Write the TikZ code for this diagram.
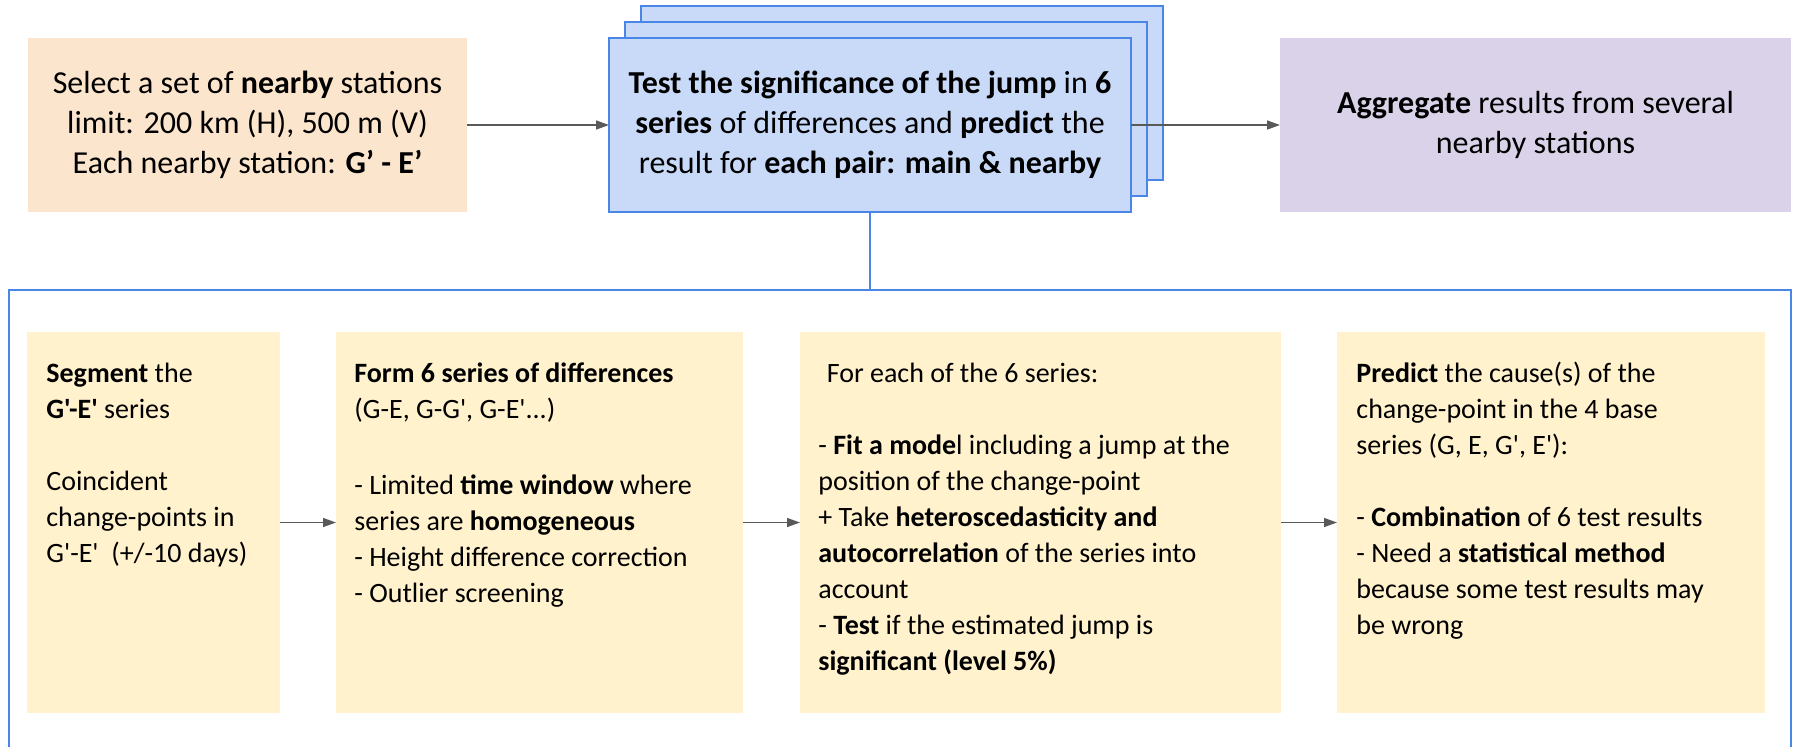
\documentclass[tikz,border=0pt]{standalone}
\usepackage{fontspec}
\setmainfont{Carlito}[Ligatures=TeXOff]
\usetikzlibrary{arrows.meta}

\definecolor{peach}{HTML}{FCE5CD}
\definecolor{paleblue}{HTML}{C9DAF8}
\definecolor{edgeblue}{HTML}{4A86E8}
\definecolor{lilac}{HTML}{D9D2E9}
\definecolor{cream}{HTML}{FFF2CC}
\definecolor{arrowgrey}{HTML}{595959}

\newcommand\mytopfont{\fontsize{16}{20}\selectfont}
\newcommand\mylowfont{\fontsize{14}{18}\selectfont}

\begin{document}
\begin{tikzpicture}[x=0.5pt,y=-0.5pt,
  panel/.style={draw=edgeblue, line width=1pt, inner sep=0pt, outer sep=0pt},
  topbox/.style={inner sep=0pt, outer sep=0pt, minimum height=87pt, align=center, font=\mytopfont},
  stackbox/.style={topbox, fill=paleblue, draw=edgeblue, line width=1pt, minimum width=261pt},
  lowbox/.style={fill=cream, inner sep=0pt, outer sep=0pt, minimum height=190.5pt},
  lowtext/.style={anchor=north west, inner sep=0pt, align=left, font=\mylowfont},
  flow/.style={draw=arrowgrey, line width=0.75pt, -{Triangle[length=6.5pt,width=4.5pt]}},
  link/.style={draw=edgeblue, line width=1pt}
]
\useasboundingbox (0,0) rectangle (1794,746);

% outer frame of the per-pair procedure
\node[panel, anchor=north west, minimum width=891pt, minimum height=250pt] (panel) at (9,290) {};

% top row
\node[topbox, fill=peach, minimum width=219.5pt] (sel) at (247.5,125)
  {Select a set of \textbf{nearby} stations\\limit: 200 km (H), 500 m (V)\\Each nearby station: \textbf{G’ - E’}};

\node[stackbox] (back) at (902,93) {};
\node[stackbox] (mid) at (886,109) {};
\node[stackbox] (front) at (870,125)
  {\textbf{Test the significance of the jump} in \textbf{6}\\\textbf{series} of differences and \textbf{predict} the\\result for \textbf{each pair: main \& nearby}};

\node[topbox, fill=lilac, minimum width=255.5pt] (agg) at (1535.5,125)
  {\textbf{Aggregate} results from several\\nearby stations};

\draw[flow] (sel.east) -- (front.west);
\draw[flow] (front.east) -- (agg.west);
\draw[link] (front.south) -- (front.south |- panel.north);

% lower row
\node[lowbox, minimum width=126.5pt] (b1) at (153.5,522.5) {};
\node[lowbox, minimum width=203.5pt] (b2) at (539.5,522.5) {};
\node[lowbox, minimum width=240.5pt] (b3) at (1040.5,522.5) {};
\node[lowbox, minimum width=214pt] (b4) at (1551,522.5) {};

\node[lowtext] (t1) at (46,357)
  {\strut\textbf{Segment} the\\
   \textbf{G'-E'} series\\[18pt]
   Coincident\\
   change-points in\\
   G'-E'\ \ (+/-10 days)};

\node[lowtext] (t2) at (354,357)
  {\strut\textbf{Form 6 series of differences}\\
   (G-E, G-G', G-E'...)\\[20pt]
   - Limited \textbf{time window} where\\
   series are \textbf{homogeneous}\\
   - Height difference correction\\
   - Outlier screening};

\node[lowtext] (t3) at (818,357)
  {\strut\hspace*{0.3em}For each of the 6 series:\\[18pt]
   - \textbf{Fit a mode}l including a jump at the\\
   position of the change-point\\
   + Take \textbf{heteroscedasticity and}\\
   \textbf{autocorrelation} of the series into\\
   account\\
   - \textbf{Test} if the estimated jump is\\
   \textbf{significant (level 5\%)}};

\node[lowtext] (t4) at (1356,357)
  {\strut\textbf{Predict} the cause(s) of the\\
   change-point in the 4 base\\
   series (G, E, G', E'):\\[18pt]
   - \textbf{Combination} of 6 test results\\
   - Need a \textbf{statistical method}\\
   because some test results may\\
   be wrong};

\draw[flow] (b1.east) -- (b2.west);
\draw[flow] (b2.east) -- (b3.west);
\draw[flow] (b3.east) -- (b4.west);
\end{tikzpicture}
\end{document}
